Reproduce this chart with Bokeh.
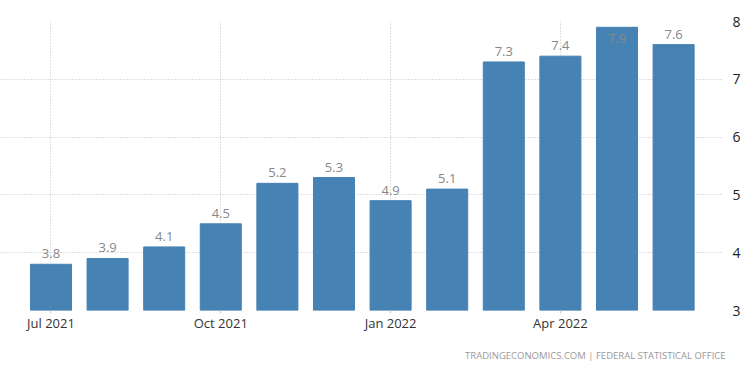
from bokeh.plotting import figure
from bokeh.models import ColumnDataSource, FixedTicker, Range1d, Title
from bokeh.embed import file_html
from bokeh.resources import INLINE
from bokeh.core.properties import value

# ---- data ----
months = ["Jul 2021", "Aug 2021", "Sep 2021", "Oct 2021", "Nov 2021", "Dec 2021",
          "Jan 2022", "Feb 2022", "Mar 2022", "Apr 2022", "May 2022", "Jun 2022"]
rates = [3.8, 3.9, 4.1, 4.5, 5.2, 5.3, 4.9, 5.1, 7.3, 7.4, 7.9, 7.6]
x_tick_labels = ["Jul 2021", "Oct 2021", "Jan 2022", "Apr 2022"]
y_ticks = [3, 4, 5, 6, 7, 8]
source_note = "TRADINGECONOMICS.COM  |  FEDERAL STATISTICAL OFFICE"

y_min, y_max = 3, 8
xs = list(range(len(months)))
tick_pos = [months.index(m) for m in x_tick_labels]

# labels that would overflow the plot top are moved inside the bar
label_text = [f"{v:.1f}" for v in rates]
label_off = [-6 if v + 0.35 <= y_max else 16 for v in rates]

src = ColumnDataSource(dict(x=xs, top=rates, label=label_text, off=label_off))

p = figure(frame_width=722, frame_height=289,
           x_range=Range1d(-0.892, 11.864), y_range=Range1d(y_min, y_max),
           output_backend="svg", toolbar_location=None, y_axis_location="right",
           min_border_left=0, min_border_top=21, min_border_right=5, min_border_bottom=4)
p.outline_line_color = None
p.background_fill_color = "white"
p.border_fill_color = "white"

p.vbar(x="x", top="top", bottom=y_min, width=0.725, fill_color="#4682b4",
       line_color="#4682b4", source=src)
p.text(x="x", y="top", text="label", y_offset="off", text_align="center",
       text_baseline="bottom", text_font=value("Open Sans"), text_font_size="13px",
       text_color="#888888", source=src)

# x axis
p.xaxis.ticker = FixedTicker(ticks=tick_pos)
p.xaxis.major_label_overrides = {i: m for i, m in zip(tick_pos, x_tick_labels)}
p.xaxis.axis_line_color = None
p.xaxis.major_tick_line_color = "#cccccc"
p.xaxis.major_tick_out = 3
p.xaxis.major_tick_in = 0
p.xaxis.minor_tick_line_color = None
p.xaxis.major_label_text_font = "Open Sans"
p.xaxis.major_label_text_font_size = "13px"
p.xaxis.major_label_text_color = "#333333"
p.xaxis.major_label_standoff = 0

# y axis
p.yaxis.ticker = FixedTicker(ticks=y_ticks)
p.yaxis.axis_line_color = None
p.yaxis.major_tick_line_color = None
p.yaxis.minor_tick_line_color = None
p.yaxis.major_label_text_font = "Open Sans"
p.yaxis.major_label_text_font_size = "14px"
p.yaxis.major_label_text_color = "#222222"
p.yaxis.major_label_standoff = 4

# grid
p.grid.grid_line_dash = "1 2"
p.grid.grid_line_color = "#c0c0c0"
p.xgrid.ticker = FixedTicker(ticks=tick_pos)
p.ygrid.ticker = FixedTicker(ticks=y_ticks)

t = Title(text=source_note, align="right", text_font_size="9.5px", text_color="#999999",
          text_font="Open Sans", text_font_style="normal", standoff=24, offset=-8)
p.add_layout(t, "below")

open("out.html", "w").write(file_html(p, INLINE))
